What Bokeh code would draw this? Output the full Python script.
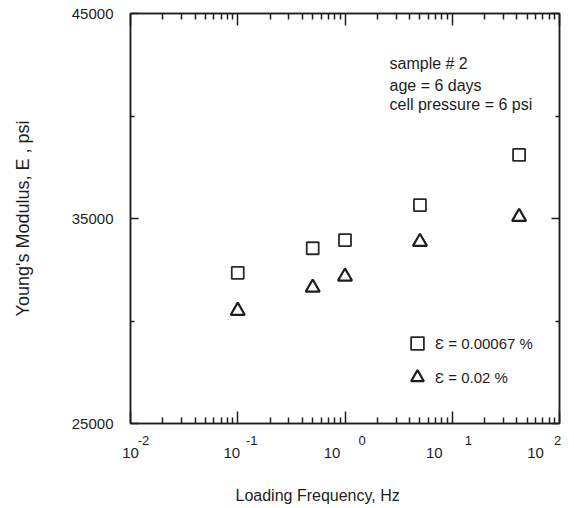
from bokeh.plotting import figure
from bokeh.models import (LogAxis, LinearAxis, FixedTicker, Label, Legend, LegendItem, Title)
from bokeh.embed import file_html
from bokeh.resources import INLINE

# ---- data ----
freq = [0.1, 0.5, 1.0, 5.0, 42.0]                 # loading frequency, Hz
E_strain_small = [32350, 33550, 33950, 35650, 38100]   # ε = 0.00067 %
E_strain_large = [30500, 31630, 32170, 33860, 35080]   # ε = 0.02 %
series_labels = ["Ɛ = 0.00067 %", "Ɛ = 0.02 %"]
x_major = [0.01, 0.1, 1, 10, 100]
x_base = "10"
x_exponents = ["-2", "-1", "0", "1", "2"]
y_major = [25000, 35000, 45000]
y_minor = [30000, 40000]
info_lines = ["sample # 2", "age = 6 days", "cell pressure = 6 psi"]
x_title = "Loading Frequency, Hz"
y_title = "Young's Modulus, E , psi"

# ---- layout / style ----
FONT = "Liberation Sans"
INK = "#1e1e1e"
DECADE_PX = 107.25                       # frame pixels per decade
base_shift = [0, -6, -13, -18, -24]      # px shift of "10" from its tick
exp_shift = [13, 14, 17, 16, -2]         # px shift of exponent from its tick
info_dy = [-50, -72, -91]

x_minor = [m * 10.0 ** e for e in range(-2, 2) for m in range(2, 10)]

def shifted(vals, shifts):
    return [v * 10 ** (d / DECADE_PX) for v, d in zip(vals, shifts)]

p = figure(width=574, height=508, x_axis_type="log",
           x_range=(x_major[0], x_major[-1]), y_range=(y_major[0], y_major[-1]),
           output_backend="svg", toolbar_location=None,
           min_border_left=130, min_border_right=15, min_border_top=13, min_border_bottom=85)
p.background_fill_color = "white"
p.border_fill_color = "white"
p.outline_line_color = INK
p.outline_line_width = 1.5
p.grid.grid_line_color = None

def hide_labels(ax, ticks):
    ax.major_label_overrides = {t: " " for t in ticks}
    ax.major_label_text_font_size = "1px"
    ax.major_label_text_alpha = 0
    ax.major_label_standoff = 0

def style_x(ax):
    ax.ticker = FixedTicker(ticks=x_major, minor_ticks=x_minor)
    ax.major_tick_in = 12
    ax.major_tick_out = 0
    ax.minor_tick_in = 6
    ax.minor_tick_out = 0
    ax.major_tick_line_color = INK
    ax.minor_tick_line_color = INK
    ax.major_tick_line_width = 1.5
    ax.minor_tick_line_width = 1.5
    ax.axis_line_color = INK
    ax.axis_line_width = 1.5
    hide_labels(ax, x_major)

def label_axis(ticks, texts, size, standoff):
    ax = LogAxis(ticker=FixedTicker(ticks=ticks, minor_ticks=[]),
                 major_label_overrides={t: s for t, s in zip(ticks, texts)},
                 major_tick_in=0, major_tick_out=0, minor_tick_in=0, minor_tick_out=0,
                 axis_line_color=None, major_tick_line_color=None, minor_tick_line_color=None,
                 major_label_text_font=FONT, major_label_text_font_size=size,
                 major_label_text_color=INK, major_label_standoff=standoff)
    return ax

def style_y(ax, show_labels):
    ax.ticker = FixedTicker(ticks=y_major, minor_ticks=y_minor)
    ax.major_tick_in = 8
    ax.major_tick_out = 0
    ax.minor_tick_in = 4
    ax.minor_tick_out = 0
    ax.major_tick_line_color = INK
    ax.minor_tick_line_color = INK
    ax.major_tick_line_width = 1.5
    ax.minor_tick_line_width = 1.5
    ax.axis_line_color = INK
    ax.axis_line_width = 1.5
    if show_labels:
        ax.major_label_text_font = FONT
        ax.major_label_text_font_size = "15px"
        ax.major_label_text_color = INK
        ax.major_label_standoff = 17
        ax.axis_label = y_title
        ax.axis_label_text_font = FONT
        ax.axis_label_text_font_size = "18px"
        ax.axis_label_text_font_style = "normal"
        ax.axis_label_text_color = INK
        ax.axis_label_standoff = 36
    else:
        hide_labels(ax, y_major)

style_x(p.xaxis[0])
style_y(p.yaxis[0], True)

# exponent row (closer to frame), then the "10" row
p.add_layout(label_axis(shifted(x_major, exp_shift), x_exponents, "13px", 12), "below")
base_axis = label_axis(shifted(x_major, base_shift), [x_base] * len(x_major), "15px", 0)
base_axis.axis_label = "\u00a0"            # empty spacer before the title
base_axis.axis_label_text_font_size = "10px"
base_axis.axis_label_standoff = 10
p.add_layout(base_axis, "below")

top = LogAxis()
style_x(top)
p.add_layout(top, "above")
right = LinearAxis()
style_y(right, False)
p.add_layout(right, "right")

p.add_layout(Title(text=x_title, align="left", offset=105, standoff=0,
                   text_font=FONT, text_font_size="16px", text_font_style="normal",
                   text_color=INK), "below")

# ---- data marks ----
sq = p.scatter(freq, E_strain_small, marker="square", size=12,
               fill_color=None, line_color="#2a2a2a", line_width=1.8)
tr = p.scatter(freq, E_strain_large, marker="triangle", size=14,
               fill_color=None, line_color=INK, line_width=2.2)

legend = Legend(items=[LegendItem(label=series_labels[0], renderers=[sq]),
                       LegendItem(label=series_labels[1], renderers=[tr])],
                location=(271, 30), glyph_width=32, glyph_height=32,
                label_standoff=2, spacing=2, padding=0, margin=0,
                border_line_color=None, background_fill_alpha=0,
                label_text_font=FONT, label_text_font_size="15px",
                label_text_color=INK)
p.add_layout(legend)

# ---- info text ----
for line, dy in zip(info_lines, info_dy):
    p.add_layout(Label(x=p.x_range.start, y=p.y_range.end, x_units="data", y_units="data",
                       text=line, text_align="left", text_baseline="middle",
                       x_offset=259, y_offset=dy,
                       text_font=FONT, text_font_size="16px", text_color=INK))

open("out.html", "w").write(file_html(p, INLINE))
